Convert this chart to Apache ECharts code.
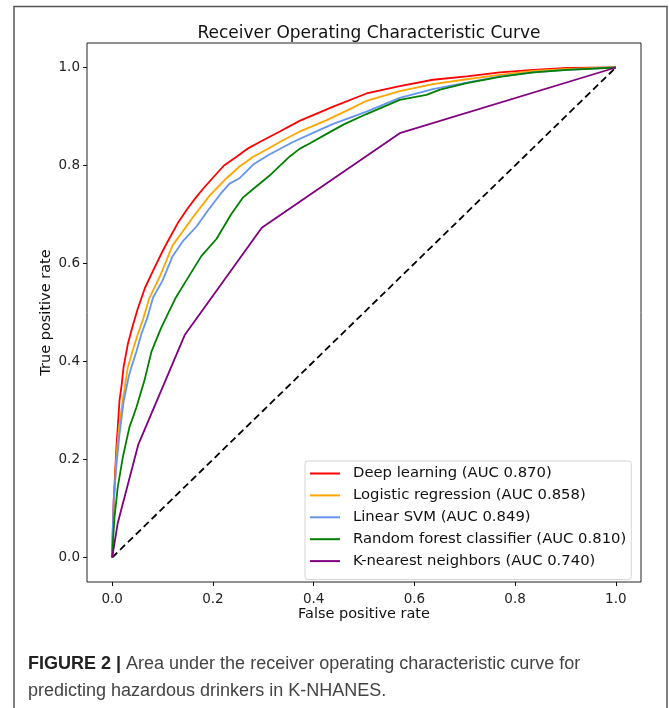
<!DOCTYPE html>
<html>
<head>
<meta charset="utf-8">
<script src="https://cdn.jsdelivr.net/npm/echarts@6/dist/echarts.min.js"></script>
<style>
	html, body { margin: 0; padding: 0; background: #fff; }
	#rocChart { width: 669px; height: 708px; }
</style>
</head>
<body>
<div id="rocChart"></div>
<script>
// legend names
var seriesNames = ['Deep learning (AUC 0.870)', 'Logistic regression (AUC 0.858)', 'Linear SVM (AUC 0.849)', 'Random forest classifier (AUC 0.810)', 'K-nearest neighbors (AUC 0.740)'];
var seriesColors = ['#ff0000', '#ffa500', '#6495ed', '#008000', '#800080'];
var tickValues = [0, 0.2, 0.4, 0.6, 0.8, 1.0];

// [fpr, tpr]
var deepLearning = [[0,0],[0.001,0.05],[0.003,0.116],[0.008,0.218],[0.0145,0.32],[0.019,0.354],[0.0225,0.388],[0.031,0.435],[0.040,0.47],[0.050,0.505],[0.065,0.55],[0.081,0.585],[0.100,0.625],[0.114,0.652],[0.130,0.682],[0.147,0.708],[0.165,0.733],[0.180,0.752],[0.200,0.775],[0.222,0.800],[0.247,0.818],[0.270,0.835],[0.293,0.848],[0.330,0.868],[0.372,0.891],[0.439,0.92],[0.505,0.947],[0.571,0.962],[0.637,0.975],[0.704,0.982],[0.770,0.99],[0.836,0.995],[0.903,0.999],[1,1]];
var logisticRegression = [[0,0],[0.002,0.06],[0.004,0.12],[0.008,0.2],[0.013,0.26],[0.021,0.32],[0.031,0.388],[0.040,0.42],[0.051,0.456],[0.061,0.485],[0.074,0.53],[0.094,0.572],[0.120,0.637],[0.160,0.694],[0.193,0.738],[0.227,0.774],[0.253,0.798],[0.280,0.818],[0.306,0.832],[0.340,0.852],[0.372,0.869],[0.425,0.892],[0.472,0.915],[0.505,0.932],[0.571,0.952],[0.637,0.966],[0.704,0.976],[0.770,0.985],[0.836,0.993],[0.903,0.997],[1,1]];
var linearSvm = [[0,0],[0.001,0.05],[0.003,0.116],[0.008,0.184],[0.0145,0.252],[0.023,0.32],[0.033,0.37],[0.038,0.388],[0.048,0.42],[0.058,0.456],[0.070,0.49],[0.081,0.53],[0.100,0.565],[0.120,0.615],[0.140,0.645],[0.167,0.675],[0.190,0.708],[0.215,0.742],[0.233,0.763],[0.253,0.774],[0.280,0.802],[0.313,0.823],[0.359,0.848],[0.400,0.867],[0.439,0.885],[0.505,0.91],[0.571,0.938],[0.637,0.956],[0.704,0.969],[0.770,0.982],[0.836,0.99],[0.903,0.995],[1,1]];
var randomForest = [[0,0],[0.002,0.04],[0.0046,0.082],[0.011,0.143],[0.021,0.204],[0.034,0.265],[0.048,0.306],[0.064,0.361],[0.078,0.42],[0.097,0.468],[0.125,0.528],[0.147,0.565],[0.177,0.615],[0.207,0.65],[0.236,0.7],[0.26,0.735],[0.28,0.752],[0.312,0.779],[0.352,0.818],[0.372,0.834],[0.392,0.845],[0.425,0.864],[0.460,0.884],[0.505,0.905],[0.571,0.934],[0.624,0.944],[0.651,0.955],[0.704,0.968],[0.770,0.981],[0.836,0.99],[0.903,0.995],[1,1]];
var knn = [[0,0],[0.011,0.07],[0.052,0.231],[0.144,0.454],[0.297,0.673],[0.571,0.866],[1,1]];
var chanceLine = [[0,0],[1,1]];

var curves = [deepLearning, logisticRegression, linearSvm, randomForest, knn];

var rocChart = echarts.init(document.getElementById('rocChart'));

var series = curves.map(function(d, i) {
	return {
		name: seriesNames[i],
		type: 'line',
		data: d,
		symbol: 'none',
		color: seriesColors[i],
		lineStyle: { width: 1.8, color: seriesColors[i] },
		z: 3 + i
	};
});
series.push({
	name: 'chance',
	type: 'line',
	data: chanceLine,
	symbol: 'none',
	color: '#000',
	lineStyle: { width: 1.8, color: '#000', type: [7, 4] },
	z: 2
});

function axisCfg(name, gap, margin) {
	return {
		type: 'value',
		min: -0.05,
		max: 1.05,
		name: name,
		nameLocation: 'middle',
		nameGap: gap,
		nameMoveOverlap: false,
		nameTextStyle: { fontFamily: 'DejaVu Sans', fontSize: 14.5, color: '#111' },
		axisLine: { show: false, onZero: false },
		splitLine: { show: false },
		axisTick: { show: true, inside: false, length: 4, customValues: tickValues, lineStyle: { color: '#111', width: 1 } },
		axisLabel: {
			customValues: tickValues,
			margin: margin,
			fontFamily: 'DejaVu Sans',
			fontSize: 13.5,
			color: '#222',
			formatter: function(v) { return v.toFixed(1); }
		}
	};
}

rocChart.setOption({
	animation: false,
	backgroundColor: '#fff',
	title: {
		text: 'Receiver Operating Characteristic Curve',
		left: 364,
		top: 20,
		textAlign: 'center',
		textStyle: { fontFamily: 'DejaVu Sans', fontSize: 17, fontWeight: 'normal', color: '#111' }
	},
	grid: {
		left: 87,
		top: 43,
		width: 554,
		height: 539,
		show: true,
		borderColor: '#222',
		borderWidth: 1,
		backgroundColor: 'transparent'
	},
	xAxis: axisCfg('False positive rate', 25, 10),
	yAxis: axisCfg('True positive rate', 33, 7),
	legend: {
		data: seriesNames,
		orient: 'vertical',
		left: 305,
		top: 461,
		icon: 'rect',
		itemWidth: 30,
		itemHeight: 2,
		itemGap: 6.9,
		padding: [5, 5, 11, 5],
		borderColor: '#d4d4d4',
		borderWidth: 1,
		borderRadius: 3,
		backgroundColor: '#fff',
		textStyle: { fontFamily: 'DejaVu Sans', fontSize: 14.8, color: '#111', padding: [0, 0, 0, 8] }
	},
	graphic: [{
		type: 'rect',
		shape: { x: 14, y: 6.5, width: 653, height: 720 },
		style: { fill: 'none', stroke: '#555', lineWidth: 1.5 },
		silent: true
	}, {
		type: 'text',
		left: 28,
		top: 651,
		style: {
			text: '{b|FIGURE 2 |} Area under the receiver operating characteristic curve for\npredicting hazardous drinkers in K-NHANES.',
			fontFamily: 'Liberation Sans',
			fontSize: 18,
			lineHeight: 27,
			fill: '#444',
			rich: {
				b: { fontFamily: 'Liberation Sans', fontSize: 18, fontWeight: 'bold', fill: '#222' }
			}
		}
	}],
	series: series
});
</script>
</body>
</html>
